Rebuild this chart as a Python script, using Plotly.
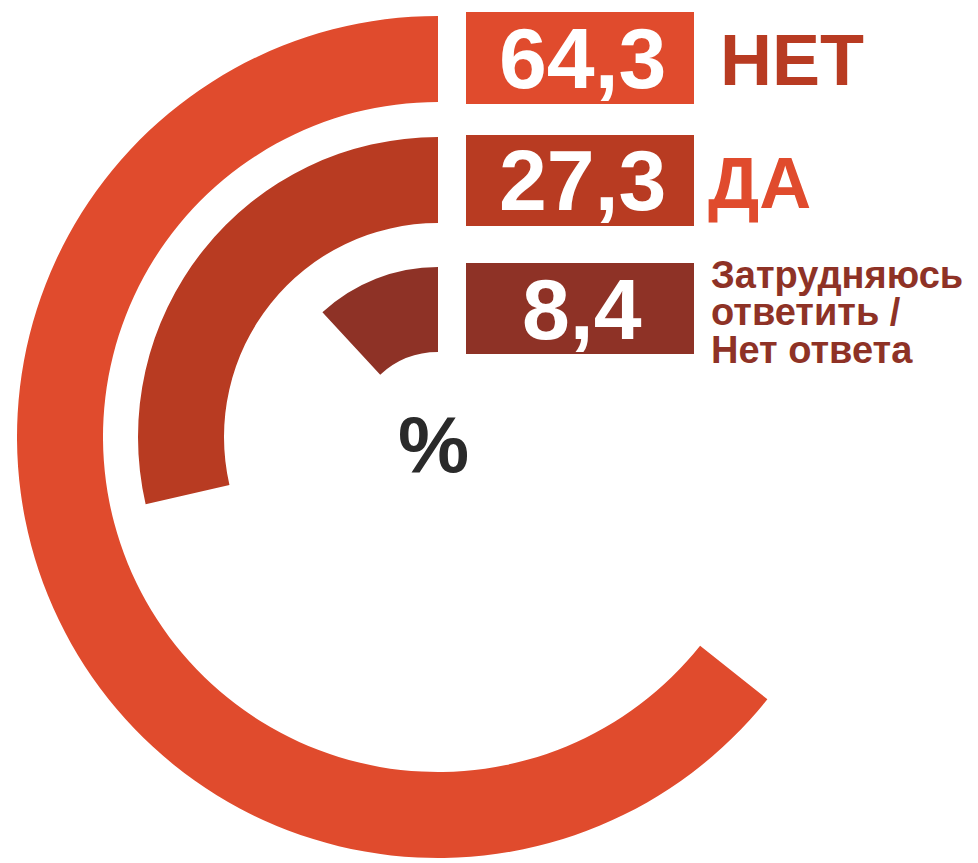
import plotly.graph_objects as go

# ---- data ----
categories = ["НЕТ", "ДА", "Затрудняюсь ответить / Нет ответа"]
values = [64.3, 27.3, 8.4]
value_labels = ["64,3", "27,3", "8,4"]
# length of each arc as drawn in the picture (% of a full circle)
arc_extent_pct = [64.3, 28.6, 11.9]
label_lines = [["НЕТ"], ["ДА"], ["Затрудняюсь", "ответить /", "Нет ответа"]]
unit_label = "%"

# ---- style ----
W, H = 978, 863
OFF = 8  # page body margin of the exported html
bar_colors = ["#E04B2D", "#B83B22", "#8E3226"]
label_colors = ["#B83B22", "#E04B2D", "#8E3226"]
FONT = "Liberation Sans, Arial, sans-serif"

CX, CY, R = 438, 437, 422          # centre and outer radius in px (screen)
bands = [(335, 421), (214, 300), (85, 170)]  # inner/outer radius in px
rects = [(12, 104), (135, 226), (263, 354)]  # y extents of value boxes
RX0, RX1 = 466, 694


def px(x):
    return (x - OFF) / W


def py(y):
    return 1 - (y - OFF) / H


spans = [p * 3.6 for p in arc_extent_pct]

fig = go.Figure()
fig.add_trace(go.Barpolar(
    theta=[s / 2 for s in spans],
    width=spans,
    base=[b[0] for b in bands],
    r=[b[1] - b[0] for b in bands],
    marker=dict(color=bar_colors, line=dict(width=0)),
    hoverinfo="skip",
    customdata=values,
))

shapes = []
annotations = []
for i, (y0, y1) in enumerate(rects):
    shapes.append(dict(type="rect", xref="paper", yref="paper",
                       x0=px(RX0), x1=px(RX1), y0=py(y1), y1=py(y0),
                       fillcolor=bar_colors[i], line=dict(width=0), layer="above"))
    yc = (y0 + y1) / 2
    annotations.append(dict(text=f"<b>{value_labels[i]}</b>", xref="paper", yref="paper",
                            x=px((RX0 + RX1) / 2 + 2), y=py(yc), xanchor="center", yanchor="middle",
                            showarrow=False, font=dict(family=FONT, size=86, color="white")))

# category labels
annotations.append(dict(text="<b>" + label_lines[0][0] + "</b>", xref="paper", yref="paper",
                        x=px(718), y=py(60), xanchor="left", yanchor="middle", showarrow=False,
                        font=dict(family=FONT, size=72, color=label_colors[0])))
annotations.append(dict(text="<b>" + label_lines[1][0] + "</b>", xref="paper", yref="paper",
                        x=px(706), y=py(183), xanchor="left", yanchor="middle", showarrow=False,
                        font=dict(family=FONT, size=72, color=label_colors[1])))
for j, (line, yc) in enumerate(zip(label_lines[2], [275, 312, 350])):
    annotations.append(dict(text="<b>" + line + "</b>", xref="paper", yref="paper",
                            x=px(709), y=py(yc), xanchor="left", yanchor="middle", showarrow=False,
                            font=dict(family=FONT, size=38, color=label_colors[2])))

annotations.append(dict(text="<b>" + unit_label + "</b>", xref="paper", yref="paper",
                        x=px(433), y=py(444), xanchor="center", yanchor="middle", showarrow=False,
                        font=dict(family=FONT, size=80, color="#2A2A2A")))

fig.update_layout(
    width=W, height=H,
    margin=dict(l=0, r=0, t=0, b=0),
    paper_bgcolor="white",
    showlegend=False,
    polar=dict(
        domain=dict(x=[px(CX - R), px(CX + R)], y=[py(CY + R), py(CY - R)]),
        bgcolor="white",
        hole=0,
        radialaxis=dict(range=[0, R], visible=False, showgrid=False),
        angularaxis=dict(rotation=90, direction="counterclockwise", visible=False,
                         showgrid=False, showline=False, ticks=""),
    ),
    shapes=shapes,
    annotations=annotations,
)

fig.write_html("out.html")
